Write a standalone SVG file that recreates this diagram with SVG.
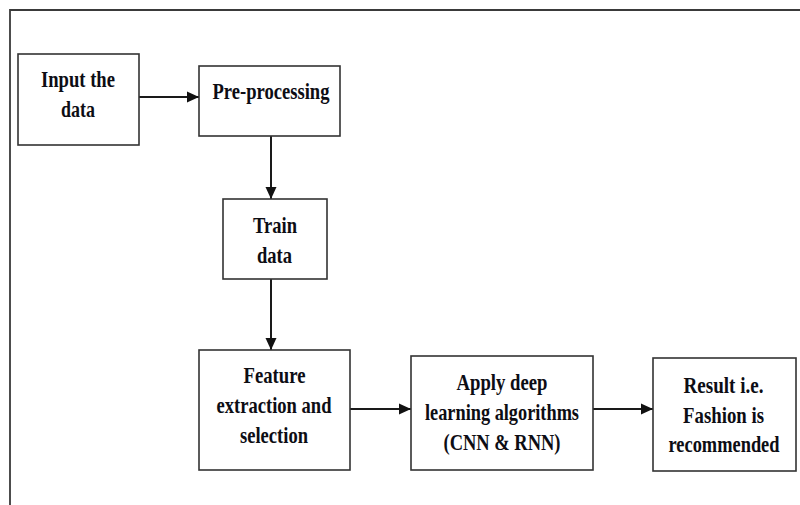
<svg xmlns="http://www.w3.org/2000/svg" width="800" height="505" viewBox="0 0 800 505">
  <style>
    .box { fill: #ffffff; stroke: #333333; stroke-width: 1.6; }
    .frame { fill: none; stroke: #3a3a3a; stroke-width: 1.8; }
    .conn { fill: none; stroke: #1a1a1a; stroke-width: 2; }
    .lbl { font-family: "Liberation Serif", "Times New Roman", serif; font-weight: bold; font-size: 23px; fill: #0d0d14; text-anchor: middle; }
  </style>
  <defs>
    <marker id="arrow" markerUnits="userSpaceOnUse" markerWidth="12" markerHeight="12" refX="12" refY="6" orient="auto">
      <path d="M0,0.5 L12,6 L0,11.5 Z" fill="#111111"/>
    </marker>
  </defs>
  <rect width="800" height="505" fill="#ffffff"/>
  <path class="frame" d="M10,505 L10,10 L800,10"/>

  <g id="connectors">
    <line class="conn" x1="139" y1="97" x2="199" y2="97" marker-end="url(#arrow)"/>
    <line class="conn" x1="271" y1="136" x2="271" y2="199" marker-end="url(#arrow)"/>
    <line class="conn" x1="271" y1="279" x2="271" y2="350" marker-end="url(#arrow)"/>
    <line class="conn" x1="350" y1="409" x2="411" y2="409" marker-end="url(#arrow)"/>
    <line class="conn" x1="593" y1="409" x2="653" y2="409" marker-end="url(#arrow)"/>
  </g>

  <g id="input">
    <rect class="box" x="18" y="54" width="121" height="91"/>
    <text class="lbl" x="78" y="87" textLength="74" lengthAdjust="spacingAndGlyphs">Input the</text>
    <text class="lbl" x="78" y="117" textLength="34" lengthAdjust="spacingAndGlyphs">data</text>
  </g>

  <g id="preprocessing">
    <rect class="box" x="199" y="66" width="141" height="70"/>
    <text class="lbl" x="271" y="99" textLength="117" lengthAdjust="spacingAndGlyphs">Pre-processing</text>
  </g>

  <g id="train">
    <rect class="box" x="223" y="199" width="104" height="80"/>
    <text class="lbl" x="275" y="233" textLength="44" lengthAdjust="spacingAndGlyphs">Train</text>
    <text class="lbl" x="274.5" y="263" textLength="35" lengthAdjust="spacingAndGlyphs">data</text>
  </g>

  <g id="feature">
    <rect class="box" x="199" y="350" width="151" height="120"/>
    <text class="lbl" x="274.5" y="383" textLength="62" lengthAdjust="spacingAndGlyphs">Feature</text>
    <text class="lbl" x="274" y="413" textLength="115" lengthAdjust="spacingAndGlyphs">extraction and</text>
    <text class="lbl" x="274" y="443" textLength="68" lengthAdjust="spacingAndGlyphs">selection</text>
  </g>

  <g id="apply">
    <rect class="box" x="411" y="356" width="182" height="114"/>
    <text class="lbl" x="502" y="390" textLength="91" lengthAdjust="spacingAndGlyphs">Apply deep</text>
    <text class="lbl" x="502" y="420" textLength="154" lengthAdjust="spacingAndGlyphs">learning algorithms</text>
    <text class="lbl" x="502" y="450" textLength="117" lengthAdjust="spacingAndGlyphs">(CNN &amp; RNN)</text>
  </g>

  <g id="result">
    <rect class="box" x="653" y="358" width="143" height="113"/>
    <text class="lbl" x="723.5" y="393" textLength="80" lengthAdjust="spacingAndGlyphs">Result i.e.</text>
    <text class="lbl" x="723.5" y="423" textLength="81" lengthAdjust="spacingAndGlyphs">Fashion is</text>
    <text class="lbl" x="724" y="452" textLength="111" lengthAdjust="spacingAndGlyphs">recommended</text>
  </g>
</svg>
